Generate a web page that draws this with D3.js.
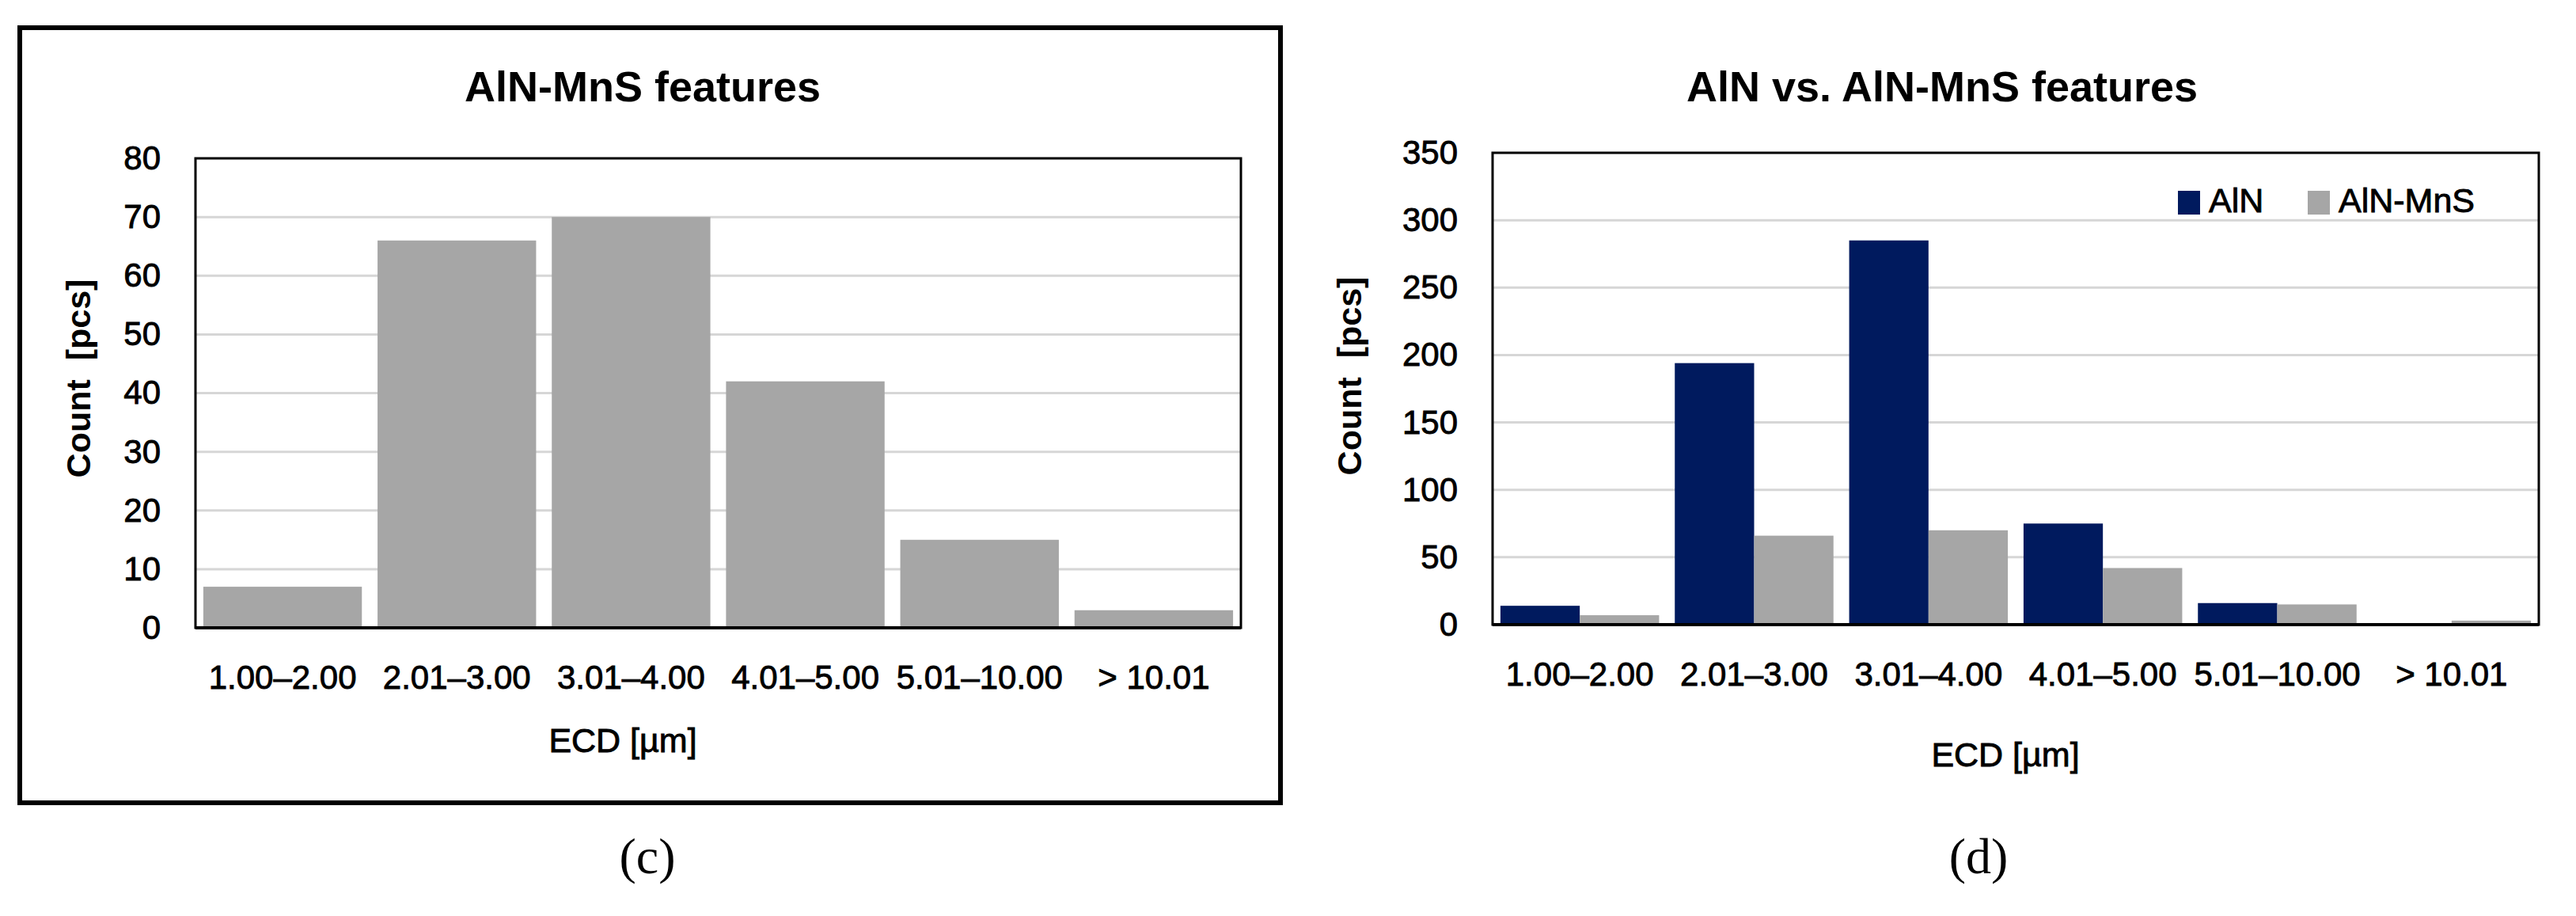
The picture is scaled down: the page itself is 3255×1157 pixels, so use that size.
<!DOCTYPE html>
<html><head><meta charset="utf-8">
<script src="https://cdn.jsdelivr.net/npm/d3@7"></script>
<style>
html,body{margin:0;padding:0;background:#fff;}
svg text{font-family:"Liberation Sans",Arial,sans-serif;fill:#000;}
.heavy{stroke:#000;stroke-width:0.9px;paint-order:stroke;}
</style></head>
<body>
<svg id="chart" width="3255" height="1157"></svg>
<script>
// ---------- data ----------
const categories = ["1.00–2.00","2.01–3.00","3.01–4.00","4.01–5.00","5.01–10.00","> 10.01"];
const alnMnsCounts = [7, 66, 70, 42, 15, 3];
const alnCounts = [14, 194, 285, 75, 16, 0];
const seriesNames = ["AlN","AlN-MnS"];
const seriesColors = ["#001a5e","#a6a6a6"];
const ticksLeft = [0,10,20,30,40,50,60,70,80];
const ticksRight = [0,50,100,150,200,250,300,350];

const svg = d3.select("#chart");

function drawPanel(opt){
  const g = svg.append("g");
  const x = d3.scaleBand().domain(categories).range([opt.x0,opt.x1]).paddingInner(0.09).paddingOuter(0.045);
  const y = d3.scaleLinear().domain([0,opt.max]).range([opt.y0,opt.y1]);
  // gridlines
  g.append("g").selectAll("line").data(opt.ticks.filter(t=>t>0 && t<opt.max)).join("line")
    .attr("x1",opt.x0).attr("x2",opt.x1).attr("y1",d=>y(d)).attr("y2",d=>y(d))
    .attr("stroke","#d6d6d6").attr("stroke-width",3);
  // bars
  if(opt.series.length===1){
    g.append("g").selectAll("rect").data(opt.series[0].values).join("rect")
      .attr("x",(d,i)=>x(categories[i])).attr("width",x.bandwidth())
      .attr("y",d=>y(d)).attr("height",d=>y(0)-y(d)).attr("fill",opt.series[0].color);
  } else {
    const xs = d3.scaleBand().domain(opt.series.map(s=>s.name)).range([0,x.bandwidth()]);
    opt.series.forEach(s=>{
      g.append("g").selectAll("rect").data(s.values).join("rect")
        .attr("x",(d,i)=>x(categories[i])+xs(s.name)).attr("width",xs.bandwidth())
        .attr("y",d=>y(d)).attr("height",d=>y(0)-y(d)).attr("fill",s.color);
    });
  }
  // plot frame
  g.append("rect").attr("x",opt.x0).attr("y",opt.y1).attr("width",opt.x1-opt.x0).attr("height",opt.y0-opt.y1)
    .attr("fill","none").attr("stroke","#000").attr("stroke-width",3);
  g.append("line").attr("x1",opt.x0).attr("x2",opt.x1).attr("y1",opt.y0).attr("y2",opt.y0)
    .attr("stroke","#000").attr("stroke-width",4);
  // y axis
  const ya = g.append("g").attr("transform",`translate(${opt.x0},0)`)
    .call(d3.axisLeft(y).tickValues(opt.ticks).tickSize(0).tickPadding(44));
  ya.select(".domain").remove();
  ya.selectAll("text").attr("class","heavy").style("font-size","42px")
    .style("font-family","'Liberation Sans',Arial,sans-serif").attr("fill","#000");
  // x axis
  const xa = g.append("g").attr("transform",`translate(0,${opt.y0})`)
    .call(d3.axisBottom(x).tickSize(0).tickPadding(47));
  xa.select(".domain").remove();
  xa.selectAll("text").attr("class","heavy").style("font-size","42px")
    .style("font-family","'Liberation Sans',Arial,sans-serif").attr("fill","#000");
  // titles
  g.append("text").attr("x",opt.titleX).attr("y",opt.titleY).attr("text-anchor","middle")
    .style("font-size","54px").style("font-weight","bold").text(opt.title);
  g.append("text").attr("class","heavy").attr("x",opt.xlabX).attr("y",opt.xlabY).attr("text-anchor","middle")
    .style("font-size","43px").text("ECD [µm]");
  g.append("text").attr("transform",`translate(${opt.ylabX},${opt.ylabY}) rotate(-90)`)
    .attr("text-anchor","middle").style("font-size","43px").style("font-weight","bold")
    .style("white-space","pre").text("Count  [pcs]");
  g.append("text").attr("x",opt.capX).attr("y",1103).attr("text-anchor","middle")
    .style("font-family","'Liberation Serif','Times New Roman',serif").style("font-size","64px").text(opt.caption);
  return {x,y,g};
}

// left panel outer box
svg.append("rect").attr("x",25).attr("y",35).attr("width",1593).attr("height",979)
  .attr("fill","none").attr("stroke","#000").attr("stroke-width",6);

drawPanel({x0:247,x1:1568,y0:793,y1:200,max:80,ticks:ticksLeft,
  series:[{name:"AlN-MnS",values:alnMnsCounts,color:seriesColors[1]}],
  title:"AlN-MnS features",titleX:812,titleY:128,xlabX:787,xlabY:950,ylabX:114,ylabY:478,
  caption:"(c)",capX:818});

const right = drawPanel({x0:1886,x1:3208,y0:789,y1:193,max:350,ticks:ticksRight,
  series:[{name:"AlN",values:alnCounts,color:seriesColors[0]},{name:"AlN-MnS",values:alnMnsCounts,color:seriesColors[1]}],
  title:"AlN vs. AlN-MnS features",titleX:2454,titleY:128,xlabX:2534,xlabY:968,ylabX:1720,ylabY:475,
  caption:"(d)",capX:2500});

// legend
const legX = [2752, 2916];
const leg = right.g.append("g");
seriesNames.forEach((n,i)=>{
  leg.append("rect").attr("x",legX[i]).attr("y",241).attr("width",28).attr("height",30).attr("fill",seriesColors[i]);
  leg.append("text").attr("class","heavy").attr("x",legX[i]+39).attr("y",268).style("font-size","43px").text(n);
});
</script>
</body></html>
